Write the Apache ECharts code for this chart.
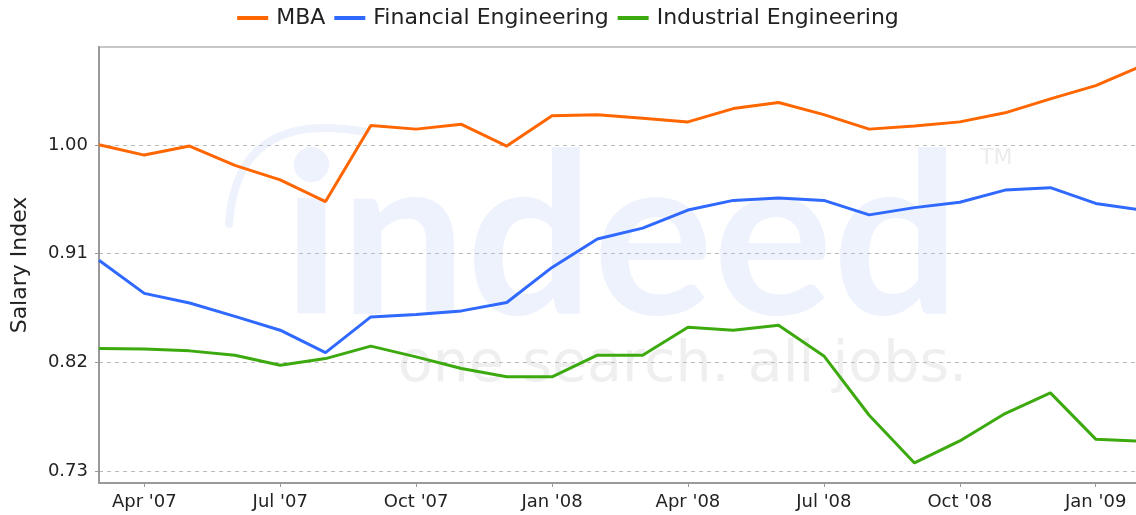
<!DOCTYPE html>
<html>
<head>
<meta charset="utf-8">
<title>Salary Index</title>
<script src="https://cdn.jsdelivr.net/npm/echarts@6/dist/echarts.min.js"></script>
<style>
  html, body { margin: 0; padding: 0; background: #fff; }
  #main { width: 1136px; height: 515px; }
</style>
</head>
<body>
<div id="main"></div>
<script>
// months, Mar '07 .. Feb '09
const months = ["Mar '07", "Apr '07", "May '07", "Jun '07", "Jul '07", "Aug '07", "Sep '07", "Oct '07",
  "Nov '07", "Dec '07", "Jan '08", "Feb '08", "Mar '08", "Apr '08", "May '08", "Jun '08", "Jul '08",
  "Aug '08", "Sep '08", "Oct '08", "Nov '08", "Dec '08", "Jan '09", "Feb '09"];

const mba = [1.000, 0.9915, 0.999, 0.983, 0.971, 0.953, 1.016, 1.013, 1.017, 0.999, 1.024, 1.025,
  1.022, 1.019, 1.030, 1.035, 1.025, 1.013, 1.0155, 1.019, 1.0265, 1.038, 1.049, 1.065];
const finEng = [0.9045, 0.877, 0.869, 0.858, 0.8465, 0.828, 0.8575, 0.8595, 0.8625, 0.8695, 0.8985, 0.922,
  0.931, 0.946, 0.954, 0.956, 0.954, 0.942, 0.948, 0.9525, 0.9625, 0.9645, 0.9515, 0.946];
const indEng = [0.8313, 0.831, 0.8294, 0.8258, 0.8175, 0.823, 0.8333, 0.8244, 0.8148, 0.8079, 0.8079, 0.8258,
  0.8258, 0.849, 0.8465, 0.8507, 0.8252, 0.7761, 0.7366, 0.7548, 0.7775, 0.7946, 0.7563, 0.7546];

const seriesNames = ['MBA', 'Financial Engineering', 'Industrial Engineering'];
const yTicks = [0.73, 0.82, 0.91, 1.00];

const chart = echarts.init(document.getElementById('main'));
const font = 'DejaVu Sans';

const option = {
  animation: false,
  backgroundColor: '#fff',
  color: ['#ff6600', '#2f69ff', '#3caa0f'],
  // faint watermark behind the plot
  graphic: [
    {
      type: 'bezierCurve', z: -1, silent: true,
      shape: { x1: 229, y1: 224, cpx1: 234, cpy1: 148, cpx2: 278, cpy2: 116, x2: 366, y2: 132 },
      style: { stroke: '#edf2fd', lineWidth: 8, fill: null, lineCap: 'round' }
    },
    {
      type: 'text', z: -1, silent: true, left: 283, top: 130,
      style: { text: 'indeed', font: 'bold 224px Lato', fill: '#edf2fd' }
    },
    {
      type: 'text', z: -1, silent: true, left: 398, top: 338,
      style: { text: 'one search. all jobs.', font: '57px "DejaVu Sans"', fill: '#efefef' }
    },
    {
      type: 'text', z: -1, silent: true, left: 980, top: 147,
      style: { text: 'TM', font: '22px "DejaVu Sans"', fill: '#ececec' }
    }
  ],
  legend: {
    top: 2,
    left: 'center',
    icon: 'rect',
    itemWidth: 31,
    itemHeight: 4,
    itemGap: 9,
    textStyle: { fontFamily: font, fontSize: 22, color: '#222', padding: [0, 0, 0, 3] },
    data: seriesNames
  },
  grid: {
    left: 99,
    right: -5,
    top: 47,
    bottom: 32,
    outerBoundsMode: 'none',
    show: true,
    borderColor: '#c8c8c8',
    borderWidth: 2
  },
  xAxis: {
    type: 'category',
    boundaryGap: false,
    data: months,
    axisLine: { lineStyle: { color: '#999', width: 2 } },
    axisTick: {
      interval: function (i) { return i % 3 === 1; },
      length: 4,
      lineStyle: { color: '#999' }
    },
    axisLabel: {
      interval: function (i) { return i % 3 === 1; },
      margin: 10,
      fontFamily: font,
      fontSize: 18,
      color: '#222'
    },
    splitLine: { show: false }
  },
  yAxis: {
    type: 'value',
    min: 0.72,
    max: 1.081,
    name: 'Salary Index',
    nameLocation: 'middle',
    nameGap: 68,
    nameTextStyle: { fontFamily: font, fontSize: 22, color: '#222' },
    axisLine: { show: true, lineStyle: { color: '#999', width: 2 } },
    axisTick: { show: true, customValues: yTicks, length: 4, lineStyle: { color: '#999' } },
    axisLabel: {
      customValues: yTicks,
      margin: 11,
      fontFamily: font,
      fontSize: 18,
      color: '#222',
      formatter: function (v) { return v.toFixed(2); }
    },
    splitLine: { show: true, lineStyle: { color: '#bbb', type: [4, 4], width: 1 } }
  },
  series: [
    { name: seriesNames[0], type: 'line', data: mba, showSymbol: false, lineStyle: { width: 3 } },
    { name: seriesNames[1], type: 'line', data: finEng, showSymbol: false, lineStyle: { width: 3 } },
    { name: seriesNames[2], type: 'line', data: indEng, showSymbol: false, lineStyle: { width: 3 } }
  ]
};

chart.setOption(option);
</script>
</body>
</html>
